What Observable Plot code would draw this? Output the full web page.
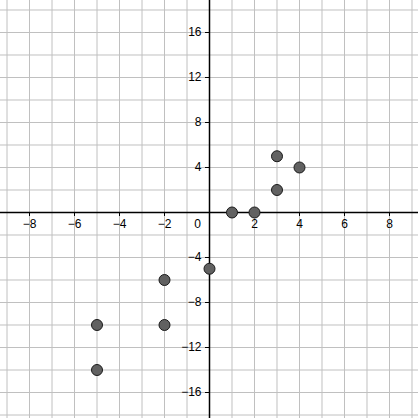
<!DOCTYPE html>
<html>
<head>
<meta charset="utf-8">
<script src="https://cdn.jsdelivr.net/npm/d3@7"></script>
<script src="https://cdn.jsdelivr.net/npm/@observablehq/plot@0.6"></script>
<style>
  html, body { margin: 0; padding: 0; background: #fff; }
  svg { display: block; }
</style>
</head>
<body>
<div id="chart"></div>
<script>
// Plotted points
const xs = [3, 4, 3, 1, 2, 0, -2, -5, -2, -5];
const ys = [5, 4, 2, 0, 0, -5, -6, -10, -10, -14];

// Labelled axis ticks
const xTicks = [-8, -6, -4, -2, 2, 4, 6, 8];
const yTicks = [-16, -12, -8, -4, 4, 8, 12, 16];

// Grid lines
const xGrid = d3.range(-9, 10, 1);
const yGrid = d3.range(-18, 20, 2);

const W = 418, H = 418;
const xDomain = [-9.289, 9.289];
const yDomain = [-18.311, 18.844];
const pxX = W / (xDomain[1] - xDomain[0]);
const pxY = H / (yDomain[1] - yDomain[0]);
const tickLen = 4;

const points = xs.map((x, i) => ({x, y: ys[i]}));
const fmt = d => d < 0 ? "\u2212" + (-d) : String(d);

const chart = Plot.plot({
  width: W,
  height: H,
  margin: 0,
  style: {fontFamily: "'Liberation Sans', Arial, sans-serif", fontSize: "12px", background: "#fff"},
  x: {domain: xDomain, axis: null},
  y: {domain: yDomain, axis: null},
  marks: [
    Plot.ruleX(xGrid, {x: d => d, stroke: "#c0c0c0", strokeWidth: 1}),
    Plot.ruleY(yGrid, {y: d => d, stroke: "#c0c0c0", strokeWidth: 1}),
    Plot.ruleX([0], {stroke: "#000", strokeWidth: 1.5}),
    Plot.ruleY([0], {stroke: "#000", strokeWidth: 1.5}),
    Plot.ruleX(xTicks, {x: d => d, y1: 0, y2: -tickLen / pxY, stroke: "#000", strokeWidth: 1}),
    Plot.ruleY(yTicks, {y: d => d, x1: 0, x2: -tickLen / pxX, stroke: "#000", strokeWidth: 1}),
    Plot.text(xTicks, {x: d => d, y: 0, dy: 12, text: fmt, fill: "#000"}),
    Plot.text(yTicks, {x: 0, y: d => d, dx: -8, textAnchor: "end", text: fmt, fill: "#000"}),
    Plot.text([0], {x: 0, y: 0, dx: -12, dy: 12, text: d => String(d), fill: "#000"}),
    Plot.dot(points, {x: "x", y: "y", r: 5.5, fill: "#616161", stroke: "#1a1a1a", strokeWidth: 1})
  ]
});
document.getElementById("chart").append(chart);
</script>
</body>
</html>
